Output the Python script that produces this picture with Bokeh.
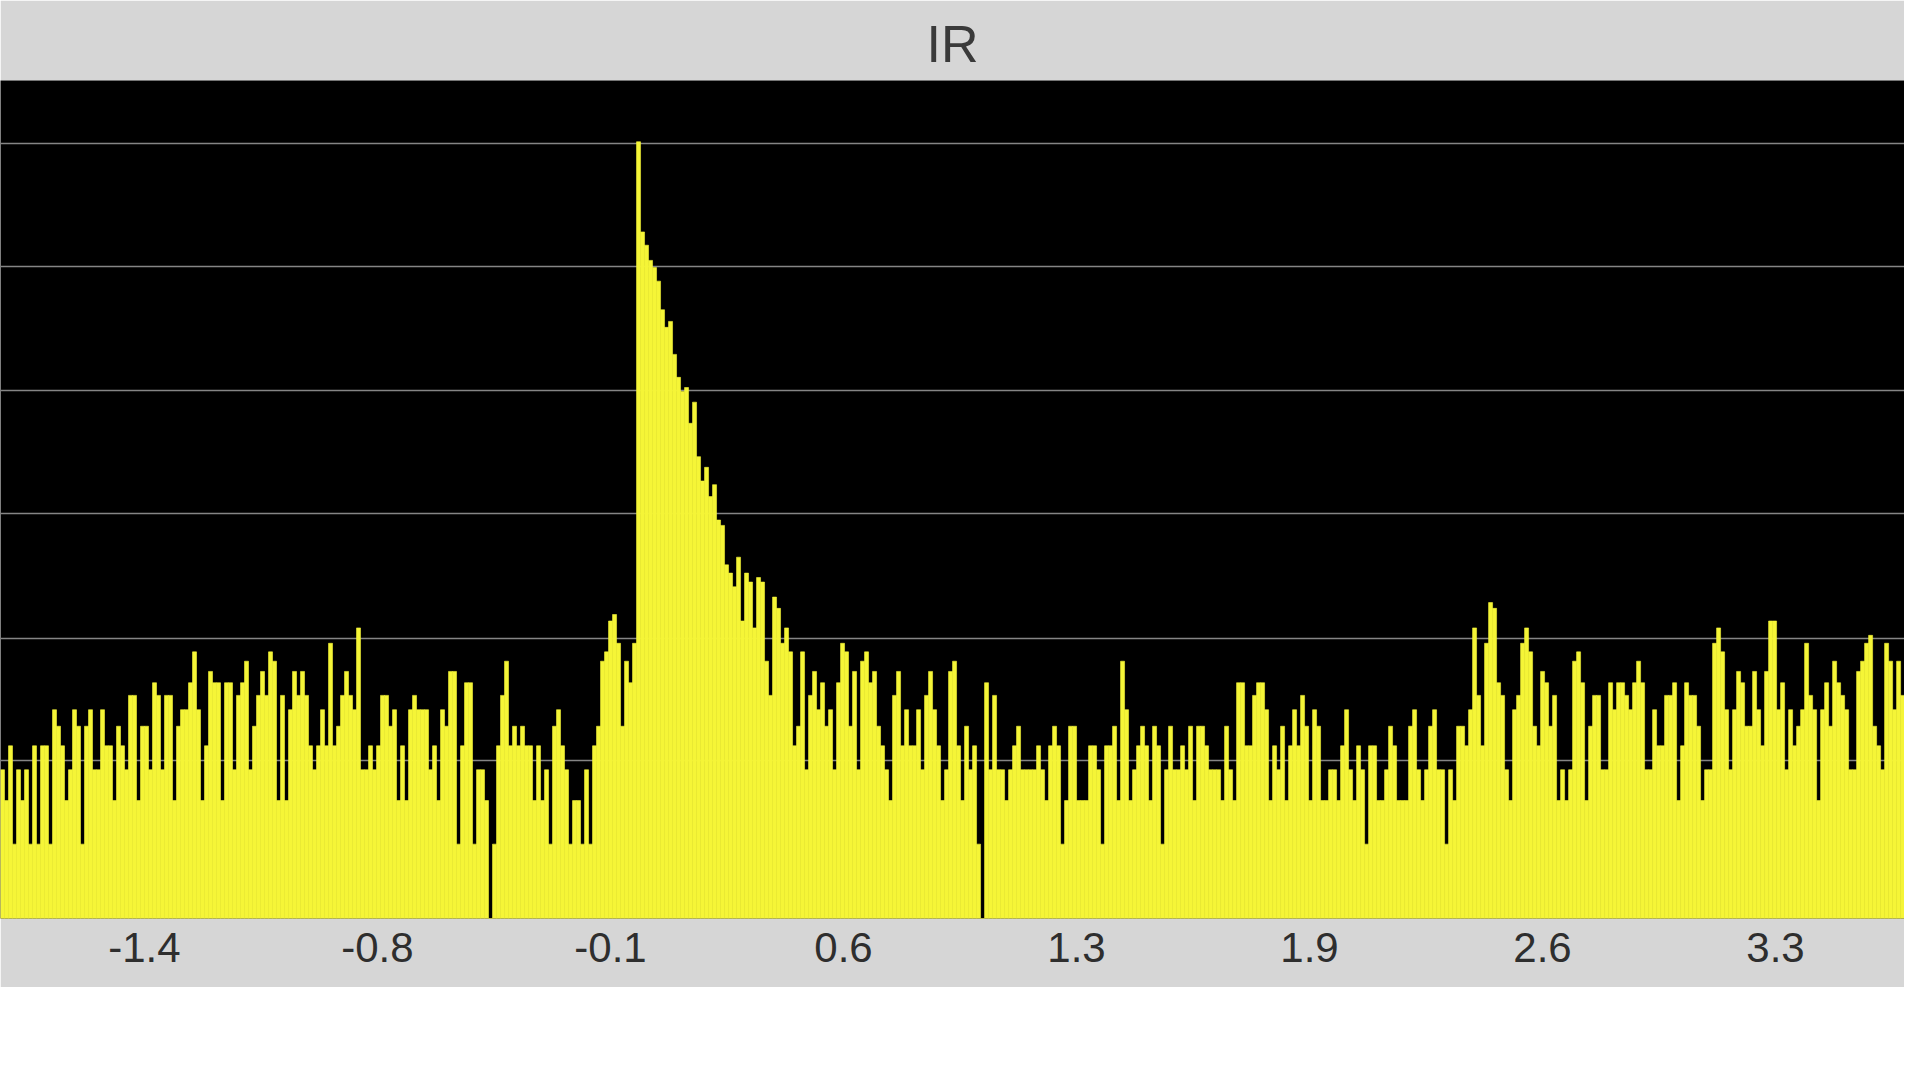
import numpy as np
from bokeh.plotting import figure
from bokeh.models import Range1d, FixedTicker
from bokeh.embed import file_html
from bokeh.resources import INLINE

TITLE = "IR"

# histogram bins (x in the chart's own units)
bin_start = -1.857
bin_width = 0.011588

# counts per bin (8 segments of 60 bins, left to right)
counts_a = [3, 2, 4, 1, 3, 2, 3, 1, 4, 1, 4, 4, 1, 6, 5, 4, 2, 3, 6, 5,
            1, 5, 6, 3, 3, 6, 4, 4, 2, 5, 4, 3, 7, 7, 2, 5, 5, 3, 8, 7,
            3, 7, 7, 2, 5, 6, 6, 8, 11, 6, 2, 4, 9, 8, 8, 2, 8, 8, 3, 7]
counts_b = [8, 10, 3, 5, 7, 9, 7, 11, 10, 2, 7, 2, 6, 9, 7, 9, 7, 4, 3, 4,
            6, 4, 12, 4, 5, 7, 9, 7, 6, 14, 3, 3, 4, 3, 4, 7, 7, 5, 6, 2,
            4, 2, 6, 7, 6, 6, 6, 3, 4, 2, 6, 5, 9, 9, 1, 4, 8, 8, 1, 3]
counts_c = [3, 2, 0, 1, 4, 7, 10, 4, 5, 4, 5, 4, 4, 2, 4, 2, 3, 1, 5, 6,
            4, 3, 1, 2, 2, 1, 3, 1, 4, 5, 10, 11, 15, 16, 12, 5, 10, 8, 12, 1392,
            600, 530, 460, 430, 379, 290, 246, 260, 191, 154,
            135, 140, 100, 122, 73, 58, 66, 50, 56, 40]
counts_d = [38, 26, 24, 21, 28, 15, 24, 22, 14, 23, 22, 10, 7, 19, 17, 12, 14, 11, 4, 5,
            11, 3, 7, 9, 6, 8, 5, 6, 3, 8, 12, 11, 5, 9, 3, 10, 11, 8, 9, 5,
            4, 3, 2, 7, 9, 4, 6, 4, 4, 6, 3, 7, 9, 6, 4, 2, 3, 9, 10, 4]
counts_e = [2, 5, 3, 4, 1, 0, 8, 3, 7, 3, 3, 2, 3, 4, 5, 3, 3, 3, 3, 4,
            3, 2, 4, 5, 4, 1, 2, 5, 5, 2, 2, 2, 4, 4, 3, 1, 4, 4, 5, 2,
            10, 6, 2, 3, 4, 5, 4, 2, 5, 4, 1, 3, 5, 3, 3, 4, 3, 5, 2, 5]
counts_f = [5, 4, 3, 3, 3, 2, 5, 3, 2, 8, 8, 4, 4, 7, 8, 8, 6, 2, 4, 3,
            5, 2, 4, 6, 4, 7, 5, 2, 6, 5, 2, 2, 3, 3, 2, 4, 6, 3, 2, 4,
            3, 1, 4, 4, 2, 2, 3, 5, 4, 2, 2, 2, 5, 6, 3, 2, 3, 5, 6, 3]
counts_g = [3, 1, 3, 2, 5, 5, 4, 6, 14, 7, 4, 12, 18, 17, 8, 7, 3, 2, 6, 7,
            12, 14, 11, 5, 4, 9, 8, 5, 7, 2, 3, 2, 3, 10, 11, 8, 2, 5, 7, 7,
            3, 3, 8, 6, 8, 8, 7, 6, 8, 10, 8, 3, 3, 6, 4, 4, 7, 7, 8, 2]
counts_h = [4, 8, 7, 7, 5, 2, 3, 3, 12, 14, 11, 6, 3, 6, 9, 8, 5, 5, 9, 6,
            4, 9, 15, 15, 6, 8, 3, 6, 4, 5, 6, 12, 7, 6, 2, 6, 8, 5, 10, 8,
            7, 6, 3, 3, 9, 10, 12, 13, 5, 4, 3, 12, 10, 6, 10, 7, 1, 3, 2, 16]

# x-axis ticks and their labels
tick_values = [-1.44, -0.765, -0.09, 0.585, 1.26, 1.935, 2.61, 3.285]
tick_labels = ["-1.4", "-0.8", "-0.1", "0.6", "1.3", "1.9", "2.6", "3.3"]

# horizontal grid levels, in ln(1 + count) units
grid_levels = [1.4725, 2.6095, 3.774, 4.921, 6.076, 7.223]

counts = np.array(counts_a + counts_b + counts_c + counts_d +
                  counts_e + counts_f + counts_g + counts_h, dtype=float)
x = bin_start + bin_width * (np.arange(len(counts)) + 0.5)
level = np.log1p(counts)

YELLOW = "#f5f537"
BAND = "#d6d6d6"

p = figure(width=1904, height=987, output_backend="svg", toolbar_location=None,
           x_range=Range1d(-1.857, 3.6586), y_range=Range1d(0, 7.81),
           y_axis_location=None, min_border_left=0, min_border_right=0,
           min_border_top=80, min_border_bottom=69, title=TITLE)

p.background_fill_color = "black"
p.border_fill_color = BAND
p.outline_line_color = None

p.title.align = "center"
p.title.text_font = "Liberation Sans"
p.title.text_font_style = "normal"
p.title.text_font_size = "52px"
p.title.text_color = "#3a3a3a"
p.title.standoff = 16

p.xgrid.visible = False
p.ygrid.ticker = FixedTicker(ticks=grid_levels)
p.ygrid.grid_line_color = "#858585"
p.ygrid.grid_line_width = 1.6

p.vbar(x=x, width=bin_width, top=level, bottom=0,
       fill_color=YELLOW, line_color=YELLOW, line_width=0.6)

ax = p.xaxis[0]
ax.ticker = FixedTicker(ticks=tick_values, minor_ticks=[])
ax.major_label_overrides = dict(zip(tick_values, tick_labels))
ax.axis_line_color = None
ax.major_tick_line_color = None
ax.minor_tick_line_color = None
ax.major_tick_in = 0
ax.major_tick_out = 0
ax.minor_tick_in = 0
ax.minor_tick_out = 0
ax.major_label_standoff = 14
ax.major_label_text_font = "Liberation Sans"
ax.major_label_text_font_size = "42px"
ax.major_label_text_color = "#2e2e2e"

open("out.html", "w").write(file_html(p, INLINE))
